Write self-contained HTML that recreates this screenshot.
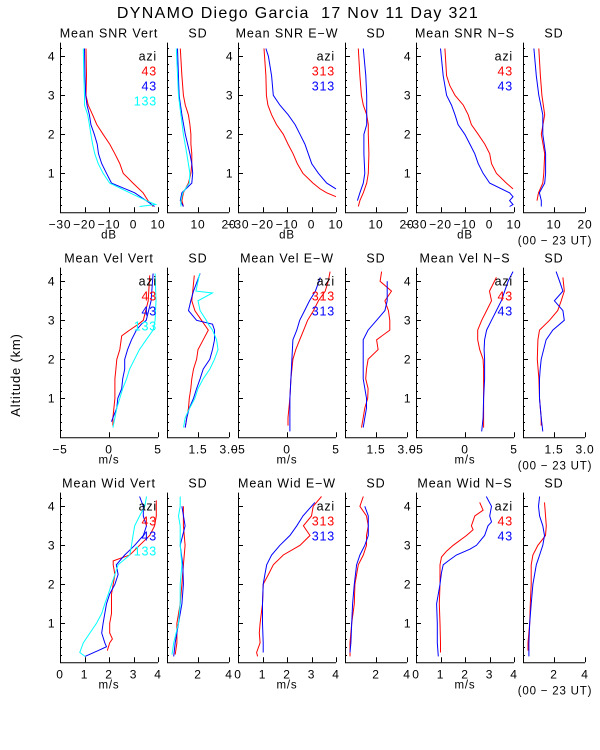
<!DOCTYPE html>
<html><head><meta charset="utf-8"><style>
html,body{margin:0;padding:0;background:#fff;}
svg{display:block;font-family:"Liberation Sans",sans-serif;}
</style></head><body>
<svg id="chart" width="600" height="750" viewBox="0 0 600 750">
<text x="298" y="18" font-size="16" letter-spacing="1.3" text-anchor="middle">DYNAMO Diego Garcia &#160;17 Nov 11 Day 321</text>
<text transform="translate(20,375) rotate(-90)" font-size="13" letter-spacing="0.8" text-anchor="middle">Altitude (km)</text>
</svg>
<script>
// ---- data: [altitude km, value] pairs per series ----
const snrVertR=[[0.15,8],[0.3,5.9],[0.5,3.9],[0.75,-0.2],[1,-4.2],[1.25,-5.6],[1.5,-7.6],[1.75,-9.7],[2,-12.4],[2.25,-15],[2.5,-16.7],[2.75,-18.5],[3,-19.4],[3.5,-19.2],[4.2,-19.4]];
const snrVertB=[[0.15,8.6],[0.3,5.2],[0.5,0.5],[0.75,-9],[1,-11],[1.25,-13],[1.5,-14.3],[1.75,-14.8],[2,-16],[2.25,-17.4],[2.5,-18],[2.75,-19],[3,-19.5],[3.5,-19.8],[4.2,-20]];
const snrVertC=[[0.15,2.5],[0.2,9],[0.3,5.2],[0.5,-1.5],[0.75,-9.7],[1,-12.4],[1.25,-14.4],[1.5,-15.8],[1.75,-16.7],[2,-17.4],[2.25,-18],[2.5,-18.7],[2.75,-20],[3,-20],[3.5,-20.3],[4.2,-20.5]];
const sdSnrVertR=[[0.15,5.3],[0.3,4.8],[0.5,5.3],[0.75,6.9],[1,7.7],[1.25,8],[1.5,8],[1.75,7.7],[2,7.7],[2.25,7.4],[2.5,6.9],[2.75,5.9],[3,5.3],[3.5,4.8],[4.2,4.3]];
const sdSnrVertB=[[0.15,5.3],[0.3,4.3],[0.5,4.8],[0.75,8],[1,8.3],[1.25,8],[1.5,7.4],[2,5.9],[2.5,4.8],[3,3.9],[4.2,3.4]];
const sdSnrVertC=[[0.15,4.5],[0.3,4.5],[0.5,5.1],[0.75,7.2],[1,7.4],[1.5,6.4],[2,5.3],[2.5,4.5],[3,3.7],[4.2,3]];
const snrEwR=[[0.4,10],[0.5,6.2],[0.6,3.5],[0.75,0.6],[1,-3.5],[1.25,-5.8],[1.5,-7.5],[1.75,-9.6],[2,-11.5],[2.25,-14.3],[2.5,-16.3],[2.75,-17.8],[3,-18.4],[3.5,-18.6],[4.2,-19.4]];
const snrEwB=[[0.6,10],[0.75,6.2],[1,2.8],[1.25,0.1],[1.5,-1.3],[1.75,-2.7],[2,-4.7],[2.25,-6.7],[2.5,-9.5],[2.75,-12.9],[3,-15.6],[3.5,-16.3],[4,-17.6],[4.2,-18.6]];
const sdSnrEwR=[[0.15,4.3],[0.3,4.8],[0.5,5.9],[0.75,7],[1,7.5],[1.5,7.7],[2,7.5],[2.25,7.5],[2.5,7],[2.75,5.9],[3,5.3],[3.5,4.8],[4.2,4.3]];
const sdSnrEwB=[[0.3,4],[0.5,4.8],[0.75,5.9],[1,6.4],[1.5,6.1],[2,6.1],[2.25,7],[2.5,7],[3,7],[3.5,6.7],[4.2,5.9]];
const snrNsR=[[0.6,9.6],[0.75,6.9],[1,2.8],[1.25,0.8],[1.5,0.1],[1.75,-1.9],[2,-4.6],[2.25,-7.4],[2.5,-8.7],[2.75,-10.7],[3,-14.1],[3.25,-16.2],[3.5,-17.5],[4.2,-18.2]];
const snrNsB=[[0.15,8.2],[0.2,9.6],[0.3,8.2],[0.4,9.6],[0.5,8.2],[0.75,0.1],[1,-2.6],[1.25,-4.6],[1.5,-6],[1.75,-8],[2,-10.1],[2.25,-12.8],[2.5,-14.1],[2.75,-15.5],[3,-17.5],[3.5,-18.9],[4.2,-20]];
const sdSnrNsR=[[0.3,4.5],[0.5,5],[0.75,6.4],[1,6.7],[1.5,7],[2,5.9],[2.5,7],[3,6.1],[3.5,5.6],[4.2,5.1]];
const sdSnrNsB=[[0.15,5.9],[0.3,5.9],[0.5,5.3],[0.75,7],[1,7.3],[1.5,7.3],[2,6.4],[2.5,6.4],[3,5.1],[3.5,4.3],[4.2,3.5]];
const velVertR=[[0.3,0.4],[0.5,0.4],[0.75,0.5],[1,0.6],[1.5,0.6],[1.75,0.7],[2,0.8],[2.25,1.1],[2.6,1.3],[2.75,2.1],[2.9,3],[3,3.5],[3.5,4],[4.15,4.15]];
const velVertB=[[0.4,0.25],[0.5,0.4],[0.75,0.8],[1,0.9],[1.25,1.3],[1.5,1.4],[1.75,1.6],[2,1.6],[2.25,1.9],[2.5,2.3],[2.75,2.8],[2.9,3.3],[3,3.8],[3.5,4.3],[4.2,4.5]];
const velVertC=[[0.25,0.4],[0.5,0.6],[0.75,0.8],[1,1.1],[1.25,1.4],[1.5,1.8],[1.75,2.1],[2,2.6],[2.25,3.1],[2.5,3.8],[2.75,4.5],[3,4.7],[3.5,4.8],[4.2,4.7]];
const sdVelVertR=[[0.25,0.88],[0.5,0.96],[0.75,1.04],[1,1.08],[1.25,1.15],[1.5,1.2],[1.75,1.28],[2,1.43],[2.25,1.5],[2.5,1.75],[2.75,2],[3,1.67],[3.25,1.35],[3.5,1.2],[4.15,1.32]];
const sdVelVertB=[[0.25,0.88],[0.5,0.96],[0.75,1.08],[1,1.28],[1.25,1.43],[1.5,1.6],[1.75,1.75],[2,2.07],[2.25,2.2],[2.5,2.3],[2.75,2.3],[2.9,2.2],[3,1.43],[3.25,1.04],[3.5,1.15],[3.75,1.28],[4.2,1.6]];
const sdVelVertC=[[0.25,0.8],[0.5,0.88],[0.75,1.1],[1,1.35],[1.25,1.5],[1.5,1.75],[1.75,2.07],[2,2.3],[2.25,2.47],[2.5,2.4],[2.75,2.2],[2.9,2],[3,1.9],[3.25,1.6],[3.5,1.5],[3.7,2.2],[3.75,1.4],[4.2,1.58]];
const velEwR=[[0.3,0.1],[0.5,0.1],[1,0.3],[1.5,0.4],[2,0.6],[2.25,0.9],[2.5,1.3],[2.75,1.7],[3,2.1],[3.25,2.7],[3.5,3.2],[3.75,3.9],[4,4.2],[4.25,4.4]];
const velEwB=[[0.15,0.3],[0.5,0.3],[1,0.3],[1.5,0.4],[2,0.5],[2.5,0.6],[2.75,1],[3,1.3],[3.25,1.8],[3.5,2.3],[3.75,2.9],[4.1,3.4]];
const sdVelEwR=[[0.25,0.8],[0.5,0.88],[0.75,0.96],[1,1.1],[1.25,1.12],[1.5,1],[1.75,1.04],[2,1.12],[2.25,1.6],[2.5,1.53],[2.75,2.17],[3,2.17],[3.25,2.1],[3.5,1.93],[3.75,2.25],[4,1.7],[4.25,1.77]];
const sdVelEwB=[[0.25,0.88],[0.5,0.96],[0.75,1.04],[1,1.04],[1.5,0.88],[2,0.88],[2.5,0.88],[2.75,1.12],[3,1.53],[3.25,1.93],[3.5,2.04],[4,2.04]];
const velNsR=[[0.25,1.9],[0.5,1.9],[1,1.9],[1.5,1.9],[1.75,1.9],[2,1.85],[2.25,1.5],[2.5,1.3],[2.75,1.3],[3,1.7],[3.25,2.2],[3.5,2.7],[3.75,2.5],[4.1,3.2]];
const velNsB=[[0.15,1.7],[0.5,1.85],[1,1.9],[1.5,2],[2,2],[2.25,1.95],[2.5,2],[2.75,2.2],[3,2.7],[3.25,3.2],[3.5,3.7],[3.75,4.05],[4,4.4],[4.25,4.9]];
const sdVelNsR=[[0.3,0.88],[0.5,0.88],[1,0.8],[1.5,0.77],[2,0.69],[2.5,0.72],[2.75,0.8],[3,1.28],[3.25,1.68],[3.5,1.85],[3.75,2],[4.1,1.93]];
const sdVelNsB=[[0.15,0.96],[0.5,0.88],[1,0.8],[1.5,0.8],[1.75,0.83],[2,0.88],[2.5,1.12],[2.75,1.44],[3,2],[3.25,1.93],[3.5,1.52],[3.75,1.93],[4,1.77],[4.25,1.6]];
const widVertR=[[0.3,1.93],[0.5,2.03],[0.6,2.14],[0.75,2.03],[1,2.03],[1.25,2.1],[1.5,2.1],[1.75,2.1],[2,2.17],[2.25,2.24],[2.5,2.17],[2.6,2.17],[2.75,2.85],[3,3.25],[3.25,3.66],[3.5,3.86],[3.75,3.93],[4.15,3.93]];
const widVertB=[[0.15,1.02],[0.3,1.56],[0.4,1.9],[0.5,1.83],[0.75,1.7],[1,1.76],[1.25,1.83],[1.5,1.9],[1.75,2.03],[2,2.24],[2.25,2.37],[2.5,2.3],[2.75,2.64],[3,3.05],[3.25,3.4],[3.5,3.53],[3.75,3.4],[4,3.4],[4.25,3.25]];
const widVertC=[[0.15,1.02],[0.25,0.81],[0.5,0.95],[0.75,1.22],[1,1.49],[1.25,1.7],[1.5,1.83],[1.75,1.97],[2,2.1],[2.25,2.24],[2.5,2.37],[2.75,2.85],[3,2.92],[3.25,2.98],[3.5,3.05],[3.75,3.25],[4,3.46],[4.25,3.53]];
const sdWidVertR=[[0.2,0.53],[0.5,0.64],[1,0.64],[1.5,0.85],[2,0.96],[2.5,1.06],[3,1.17],[3.5,1.06],[4,1.06]];
const sdWidVertB=[[0.15,0.43],[0.5,0.53],[1,0.74],[1.5,0.96],[2,1.06],[2.5,1.02],[3,0.85],[3.5,1.17],[4,0.96]];
const sdWidVertC=[[0.2,0.32],[0.5,0.43],[1,0.74],[1.5,0.85],[2,0.85],[2.5,0.96],[3,0.85],[3.5,0.85],[3.75,0.74],[4,0.85],[4.25,0.85]];
const widEwR=[[0.15,0.8],[0.25,0.76],[0.5,0.9],[0.75,0.87],[1,0.9],[1.5,1],[2,1.03],[2.25,1.24],[2.5,1.44],[2.75,1.85],[3,2.53],[3.25,2.94],[3.5,2.67],[3.75,3],[4,3.07],[4.25,3.41]];
const widEwB=[[0.25,1.03],[0.5,1.03],[1,1],[1.5,1],[2,1.03],[2.25,1.1],[2.5,1.17],[2.75,1.37],[3,1.71],[3.25,2.12],[3.5,2.4],[3.75,2.65],[4.1,3.14]];
const sdWidEwR=[[0.15,0.32],[0.5,0.32],[1,0.43],[1.5,0.6],[2,0.64],[2.5,0.86],[2.75,1.18],[3,1.39],[3.25,1.39],[3.5,1.5],[3.75,1.39],[4,0.96],[4.25,1.18]];
const sdWidEwB=[[0.25,0.32],[0.5,0.38],[1,0.43],[1.5,0.49],[2,0.6],[2.5,0.75],[2.75,0.96],[3,1.28],[3.25,1.5],[3.5,1.5],[3.75,1.5],[4,1.28]];
const widNsR=[[0.25,1],[0.5,1],[1,0.98],[1.5,0.95],[2,0.98],[2.5,0.98],[2.7,1.04],[2.85,1.25],[3,1.52],[3.25,2.06],[3.4,2.33],[3.5,2.26],[3.75,2.4],[3.9,2.74],[4.1,2.6]];
const widNsB=[[0.15,0.91],[0.5,0.87],[1,0.87],[1.5,0.84],[2,0.98],[2.3,1.04],[2.5,1.11],[2.6,1.32],[2.75,1.65],[2.9,2.2],[3,2.47],[3.25,2.8],[3.5,2.94],[3.6,3.08],[3.75,3.01],[4,3.08],[4.25,2.87]];
const sdWidNsR=[[0.3,0.32],[0.5,0.32],[1,0.43],[1.5,0.47],[2,0.53],[2.5,0.53],[2.75,0.64],[3,0.96],[3.25,1.45],[3.5,1.5],[4.1,1.39]];
const sdWidNsB=[[0.15,0.38],[0.5,0.38],[1,0.43],[1.5,0.53],[2,0.64],[2.5,0.86],[2.75,1.07],[3,1.28],[3.25,1.39],[3.5,1.28],[3.75,1.07],[4,1],[4.25,1.07]];
// ---- tick labels ----
const snrTicks=[-30,-20,-10,0,10];
const snrSdTicks=[10,20];
const velTicks=[-5,0,5];
const velSdTicks=["1.5","3.0"];
const widTicks=[0,1,2,3,4];
const widSdTicks=[2,4];
const altTicks=[1,2,3,4];

const RED="#ff0000",BLUE="#0000ff",CYAN="#00ffff";
const NS="http://www.w3.org/2000/svg";
const svg=document.getElementById('chart');
const MEANW=98,SDW=62;
const COLX=[60,238,416];
const ROWBASE=[212.3,437.3,662.3];
const PXKM=39, ALTMAX=4.35;

function mk(tag,attrs,parent){const e=document.createElementNS(NS,tag);for(const k in attrs)e.setAttribute(k,attrs[k]);(parent||svg).appendChild(e);return e;}
function txt(x,y,s,anchor,col,size,parent,ls){const t=mk('text',{x:x,y:y,'font-size':size||12,'text-anchor':anchor||'middle',fill:col||'#000','letter-spacing':ls||0.4},parent);t.textContent=s;return t;}

let clipN=0;
function panel(name,x0,w,row,xmin,xmax,ticks,title,series,legend,showAlt,unit){
  const y0=ROWBASE[row],yTop=y0-ALTMAX*PXKM;
  const g=mk('g',{});
  
  
  const sx=v=>x0+(v-xmin)/(xmax-xmin)*w;
  const sy=a=>y0-a*PXKM;
  const t=txt(x0+w/2,yTop-5,title,'middle','#000',12.5,g,0.9);
  
  
  const ax=mk('path',{d:`M${x0+0.5},${yTop} V${y0+0.5} H${x0+w}`,stroke:'#000',fill:'none','stroke-width':1},g);
  
  
  for(let a=0.2;a<ALTMAX;a+=0.2){
    const major=Math.abs(a-Math.round(a))<0.01;
    mk('line',{x1:x0,x2:x0+(major?5:2),y1:Math.round(sy(a))+0.5,y2:Math.round(sy(a))+0.5,stroke:'#000'},g);
  }
  if(showAlt){altTicks.forEach(a=>{const l=txt(x0-5,sy(a)+4,String(a),'end','#000',12,g);
    
    });}
  ticks.forEach(v=>{const xv=sx(parseFloat(v));
    mk('line',{x1:Math.round(xv)+0.5,x2:Math.round(xv)+0.5,y1:y0,y2:y0-5,stroke:'#000'},g);
    const s=String(v).replace('-','\u2212');
    const l=txt(xv,y0+16,s,'middle','#000',12,g,0.8);
    
    });
  if(unit){const u=txt(x0+w/2,y0+26,unit,'middle','#000',11.5,g,0.8);
    
    }
  clipN++;
  const cp=mk('clipPath',{id:'cp'+clipN},g);
  mk('rect',{x:x0,y:yTop,width:w+1,height:y0-yTop},cp);
  series.forEach(([data,col,sname])=>{
    const pts=data.map(([a,v])=>sx(v).toFixed(1)+','+sy(a).toFixed(1)).join(' ');
    const p=mk('polyline',{points:pts,fill:'none',stroke:col,'stroke-width':1,'clip-path':`url(#cp${clipN})`},g);
    
    
  });
  if(legend){legend.forEach(([s,col],i)=>{const l=txt(x0+w-1,yTop+18+i*15,s,'end',col,12.5,g,0.8);
    
    });}
}
const L3=[["azi","#000"],["43",RED],["43",BLUE],["133",CYAN]];
const LEW=[["azi","#000"],["313",RED],["313",BLUE]];
const LNS=[["azi","#000"],["43",RED],["43",BLUE]];
panel('mean-snr-vert',COLX[0],MEANW,0,-30,10,snrTicks,'Mean SNR Vert',[[snrVertR,RED,'snr-vert-43-red'],[snrVertB,BLUE,'snr-vert-43-blue'],[snrVertC,CYAN,'snr-vert-133']],L3,true,'dB');
panel('sd-snr-vert',COLX[0]+107,SDW,0,0,20,snrSdTicks,'SD',[[sdSnrVertR,RED,'sd-red'],[sdSnrVertB,BLUE,'sd-blue'],[sdSnrVertC,CYAN,'sd-cyan']],null,false,null);
panel('mean-snr-ew',COLX[1],MEANW,0,-30,10,snrTicks,'Mean SNR E\u2212W',[[snrEwR,RED,'snr-ew-red'],[snrEwB,BLUE,'snr-ew-blue']],LEW,true,'dB');
panel('sd-snr-ew',COLX[1]+107,SDW,0,0,20,snrSdTicks,'SD',[[sdSnrEwR,RED,'sd-red'],[sdSnrEwB,BLUE,'sd-blue']],null,false,null);
panel('mean-snr-ns',COLX[2],MEANW,0,-30,10,snrTicks,'Mean SNR N\u2212S',[[snrNsR,RED,'snr-ns-red'],[snrNsB,BLUE,'snr-ns-blue']],LNS,true,'dB');
panel('sd-snr-ns',COLX[2]+107,SDW,0,0,20,snrSdTicks,'SD',[[sdSnrNsR,RED,'sd-red'],[sdSnrNsB,BLUE,'sd-blue']],null,false,null);
panel('mean-vel-vert',COLX[0],MEANW,1,-5,5,velTicks,'Mean Vel Vert',[[velVertR,RED,'vel-vert-red'],[velVertB,BLUE,'vel-vert-blue'],[velVertC,CYAN,'vel-vert-cyan']],L3,true,'m/s');
panel('sd-vel-vert',COLX[0]+107,SDW,1,0,3,velSdTicks,'SD',[[sdVelVertR,RED,'sd-red'],[sdVelVertB,BLUE,'sd-blue'],[sdVelVertC,CYAN,'sd-cyan']],null,false,null);
panel('mean-vel-ew',COLX[1],MEANW,1,-5,5,velTicks,'Mean Vel E\u2212W',[[velEwR,RED,'vel-ew-red'],[velEwB,BLUE,'vel-ew-blue']],LEW,false,'m/s');
panel('sd-vel-ew',COLX[1]+107,SDW,1,0,3,velSdTicks,'SD',[[sdVelEwR,RED,'sd-red'],[sdVelEwB,BLUE,'sd-blue']],null,false,null);
panel('mean-vel-ns',COLX[2],MEANW,1,-5,5,velTicks,'Mean Vel N\u2212S',[[velNsR,RED,'vel-ns-red'],[velNsB,BLUE,'vel-ns-blue']],LNS,true,'m/s');
panel('sd-vel-ns',COLX[2]+107,SDW,1,0,3,velSdTicks,'SD',[[sdVelNsR,RED,'sd-red'],[sdVelNsB,BLUE,'sd-blue']],null,false,null);
panel('mean-wid-vert',COLX[0],MEANW,2,0,4,widTicks,'Mean Wid Vert',[[widVertR,RED,'wid-vert-red'],[widVertB,BLUE,'wid-vert-blue'],[widVertC,CYAN,'wid-vert-cyan']],L3,true,'m/s');
panel('sd-wid-vert',COLX[0]+107,SDW,2,0,4,widSdTicks,'SD',[[sdWidVertR,RED,'sd-red'],[sdWidVertB,BLUE,'sd-blue'],[sdWidVertC,CYAN,'sd-cyan']],null,false,null);
panel('mean-wid-ew',COLX[1],MEANW,2,0,4,widTicks,'Mean Wid E\u2212W',[[widEwR,RED,'wid-ew-red'],[widEwB,BLUE,'wid-ew-blue']],LEW,false,'m/s');
panel('sd-wid-ew',COLX[1]+107,SDW,2,0,4,widSdTicks,'SD',[[sdWidEwR,RED,'sd-red'],[sdWidEwB,BLUE,'sd-blue']],null,false,null);
panel('mean-wid-ns',COLX[2],MEANW,2,0,4,widTicks,'Mean Wid N\u2212S',[[widNsR,RED,'wid-ns-red'],[widNsB,BLUE,'wid-ns-blue']],LNS,true,'m/s');
panel('sd-wid-ns',COLX[2]+107,SDW,2,0,4,widSdTicks,'SD',[[sdWidNsR,RED,'sd-red'],[sdWidNsB,BLUE,'sd-blue']],null,false,null);
ROWBASE.forEach(y=>{const t=txt(555,y+32,'(00 \u2212 23 UT)','middle','#000',11.5,null,0.8);
  
  });
</script>
</body></html>
